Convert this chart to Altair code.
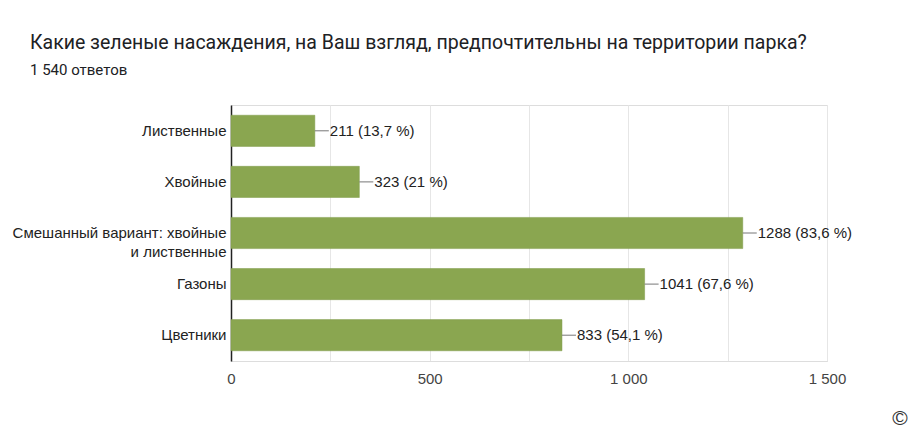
import altair as alt
import pandas as pd

categories = ["Лиственные", "Хвойные", "Смешанный вариант: хвойные|и лиственные", "Газоны", "Цветники"]
counts = [211, 323, 1288, 1041, 833]
total = 1540
title_text = "Какие зеленые насаждения, на Ваш взгляд, предпочтительны на территории парка?"
subtitle_text = "1 540 ответов"
tick_values = [0, 250, 500, 750, 1000, 1250, 1500]

def pct(c):
    p = round(c / total * 100, 1)
    s = f"{p:.1f}".replace(".", ",")
    if s.endswith(",0"):
        s = s[:-2]
    return f"{c} ({s} %)"

df = pd.DataFrame({"cat": categories, "count": counts, "label": [pct(c) for c in counts]})

GREEN = "#8aa650"

y_enc = alt.Y("cat:N", sort=categories, title=None,
              scale=alt.Scale(paddingInner=0.39, paddingOuter=0.2),
              axis=alt.Axis(labelExpr="split(datum.label, '|')", labelFont="Liberation Sans",
                            labelFontSize=15, labelColor="#222222", labelLineHeight=19,
                            labelLimit=400,
                            domainColor="#222222", domainWidth=1.5, ticks=False, labelPadding=5,
                            grid=False))
x_enc = alt.X("count:Q", title=None, scale=alt.Scale(domain=[0, 1500], nice=False),
              axis=alt.Axis(values=tick_values,
                            labelExpr="datum.value % 500 == 0 ? replace(format(datum.value, ','), ',', ' ') : ''",
                            labelFont="Liberation Sans", labelFontSize=15, labelColor="#444444",
                            labelFlush=False, labelOverlap=False,
                            ticks=False, domainColor="#dddddd", gridColor="#e6e6e6",
                            labelPadding=10))

base = alt.Chart(df)

bars = base.mark_bar(color=GREEN, stroke="#7f9a48", strokeWidth=0.5).encode(x=x_enc, y=y_enc)
leaders = base.mark_rule(color="#777777", strokeWidth=1, x2Offset=14).encode(
    x="count:Q", x2="count:Q", y=alt.Y("cat:N", sort=categories, bandPosition=0.5))
labels = base.mark_text(align="left", baseline="middle", dx=15, font="Liberation Sans",
                        fontSize=15, color="#222222").encode(
    x="count:Q", y=alt.Y("cat:N", sort=categories), text="label:N")

copy_df = pd.DataFrame({"t": ["©"]})
copyright_mark = alt.Chart(copy_df).mark_text(font="Liberation Sans", fontSize=21, color="#333333",
                                              align="center", baseline="middle").encode(
    text="t:N", x=alt.value(669), y=alt.value(314))

chart = alt.layer(bars, leaders, labels, copyright_mark).properties(
    width=596, height=256,
    padding={"left": 223, "top": 97, "right": 85, "bottom": 68},
    autosize=alt.AutoSizeParams(type="none"),
    title=alt.TitleParams(text=title_text, subtitle=subtitle_text, anchor="start", frame="group",
                          dx=-201, offset=26, font="Roboto", fontSize=19.5, fontWeight="normal",
                          color="#202124", subtitleFont="Roboto", subtitleFontSize=15,
                          subtitleColor="#202124", subtitlePadding=10),
).configure_view(stroke=None).configure(background="white")

chart.save("out.html", embed_options={"renderer": "svg", "actions": False})
